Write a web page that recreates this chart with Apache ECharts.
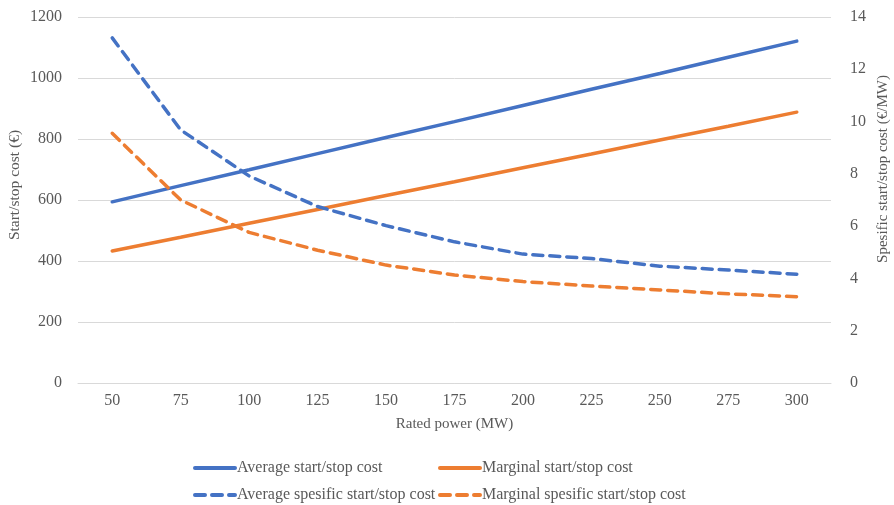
<!DOCTYPE html>
<html>
<head>
<meta charset="utf-8">
<script src="https://cdn.jsdelivr.net/npm/echarts@6/dist/echarts.min.js"></script>
<style>html,body{margin:0;padding:0;background:#fff}#c{width:894px;height:505px}</style>
</head>
<body>
<div id="c"></div>
<script>
const categories = ['50','75','100','125','150','175','200','225','250','275','300'];
const avgCost = [594, 647, 699, 752, 805, 857, 910, 963, 1015, 1068, 1121];
const margCost = [433, 478, 524, 569, 615, 660, 706, 751, 797, 842, 888];
const avgSpecific = [13.2, 9.68, 7.92, 6.75, 6.02, 5.40, 4.93, 4.76, 4.47, 4.32, 4.16];
const margSpecific = [9.55, 7.0, 5.76, 5.08, 4.51, 4.13, 3.88, 3.71, 3.56, 3.41, 3.30];
const leftTicks = {min: 0, max: 1200, interval: 200};
const rightTicks = {min: 0, max: 14, interval: 2};

const BLUE = '#4472C4', ORANGE = '#ED7D31', TXT = '#595959';
const FONT = '"Liberation Serif", "Times New Roman", serif';
const names = ['Average start/stop cost', 'Marginal start/stop cost', 'Average spesific start/stop cost', 'Marginal spesific start/stop cost'];

function legend(name, left, top) {
  return {
    data: [name], left: left, top: top, itemWidth: 40, itemHeight: 14, itemGap: 0,
    itemStyle: {opacity: 0},
    lineStyle: {width: 4},
    textStyle: {fontFamily: FONT, fontSize: 16, color: TXT, padding: [0, 0, 0, -3]},
    padding: 0
  };
}

const chart = echarts.init(document.getElementById('c'));
chart.setOption({
  animation: false,
  backgroundColor: '#fff',
  grid: {left: 78, right: 63, top: 17, bottom: 122, containLabel: false, outerBoundsMode: 'none'},
  legend: [
    legend(names[0], 193, 460),
    legend(names[1], 438, 460),
    legend(names[2], 193, 487),
    legend(names[3], 438, 487)
  ],
  xAxis: {
    type: 'category', data: categories, boundaryGap: true,
    name: 'Rated power (MW)', nameLocation: 'middle', nameGap: 34,
    nameTextStyle: {fontFamily: FONT, fontSize: 15, color: TXT},
    axisLine: {show: true, lineStyle: {color: '#d9d9d9', width: 1}},
    axisTick: {show: false},
    axisLabel: {fontFamily: FONT, fontSize: 16, color: TXT, margin: 10}
  },
  yAxis: [
    {
      type: 'value', position: 'left', min: leftTicks.min, max: leftTicks.max, interval: leftTicks.interval,
      name: 'Start/stop cost (€)', nameLocation: 'middle', nameGap: 55, nameRotate: 90,
      nameMoveOverlap: false,
      nameTextStyle: {fontFamily: FONT, fontSize: 15.5, color: TXT, padding: [0, 0, 0, 30]},
      axisLine: {show: false}, axisTick: {show: false},
      axisLabel: {fontFamily: FONT, fontSize: 16, color: TXT, margin: 16, formatter: v => String(v)},
      splitLine: {show: true, lineStyle: {color: '#d9d9d9', width: 1}}
    },
    {
      type: 'value', position: 'right', min: rightTicks.min, max: rightTicks.max, interval: rightTicks.interval,
      name: 'Spesific start/stop cost (€/MW)', nameLocation: 'middle', nameGap: 45, nameRotate: 90,
      nameMoveOverlap: false,
      nameTextStyle: {fontFamily: FONT, fontSize: 15, color: TXT, padding: [0, 0, 0, 62]},
      axisLine: {show: false}, axisTick: {show: false},
      axisLabel: {fontFamily: FONT, fontSize: 16, color: TXT, margin: 19, formatter: v => String(v)},
      splitLine: {show: false}
    }
  ],
  series: [
    {name: names[0], type: 'line', yAxisIndex: 0, data: avgCost, showSymbol: false, symbol: 'none',
     lineStyle: {color: BLUE, width: 3.5, cap: 'round'}, itemStyle: {color: BLUE}},
    {name: names[1], type: 'line', yAxisIndex: 0, data: margCost, showSymbol: false, symbol: 'none',
     lineStyle: {color: ORANGE, width: 3.5, cap: 'round'}, itemStyle: {color: ORANGE}},
    {name: names[2], type: 'line', yAxisIndex: 1, data: avgSpecific, showSymbol: false, symbol: 'none',
     lineStyle: {color: BLUE, width: 3.5, type: [10, 7], cap: 'round', join: 'round'}, itemStyle: {color: BLUE}},
    {name: names[3], type: 'line', yAxisIndex: 1, data: margSpecific, showSymbol: false, symbol: 'none',
     lineStyle: {color: ORANGE, width: 3.5, type: [10, 7], cap: 'round', join: 'round'}, itemStyle: {color: ORANGE}}
  ]
});
</script>
</body>
</html>
